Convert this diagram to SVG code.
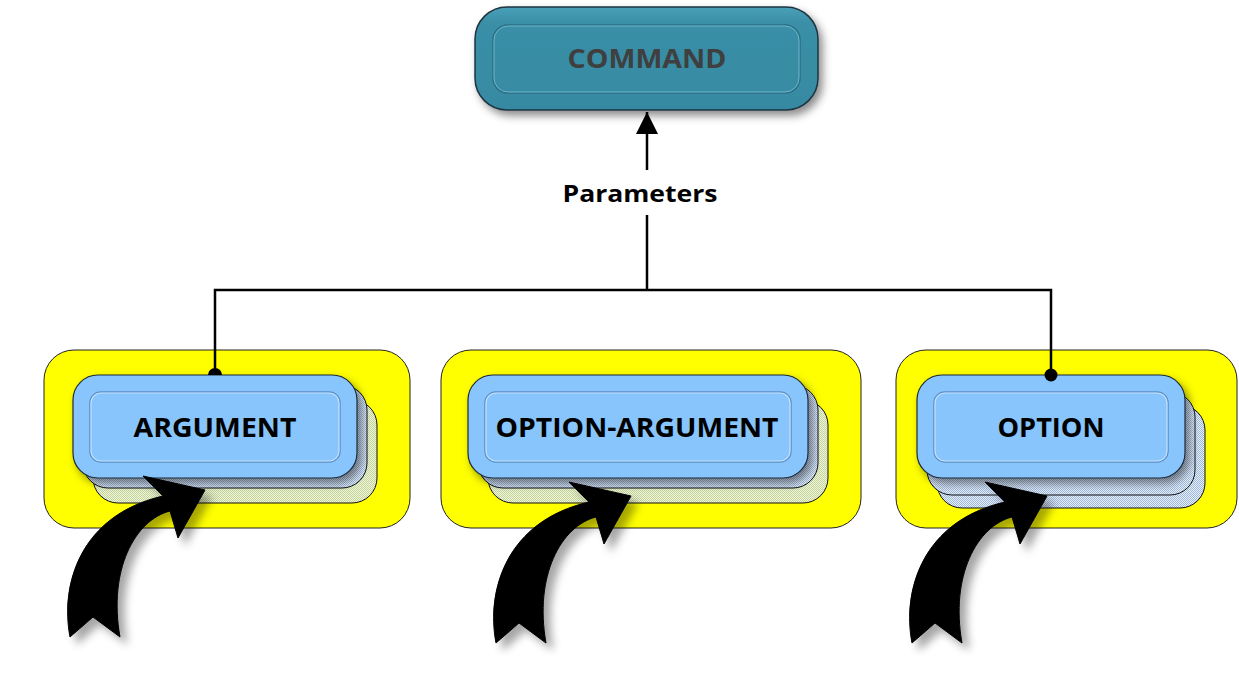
<svg xmlns="http://www.w3.org/2000/svg" width="1239" height="694" viewBox="0 0 1239 694">
<defs>
<style>
.yel{fill:#ffff00;stroke:#222;stroke-width:1}
.node{fill:#87c5fc;stroke:#1c2a3a;stroke-width:1.2}
.inner{fill:none;stroke:#5d8fc4;stroke-width:1.5}
.innerhi{fill:none;stroke:#c4e2ff;stroke-width:1.2}
.hb{fill:url(#hatchBlue);stroke:#111;stroke-width:1}
.hg{fill:url(#hatchGreen);stroke:#111;stroke-width:1}
.lbl{font-family:"Open Sans","Noto Sans",sans-serif;font-weight:bold;font-size:26px;fill:#000;text-anchor:middle}
.conn{fill:none;stroke:#000;stroke-width:2.5}
.curv{fill:#000;stroke:#000;stroke-width:1}
</style>
<pattern id="hatchBlue" width="2" height="2" patternUnits="userSpaceOnUse">
<rect width="2" height="2" fill="#e6eef8"/>
<rect width="1" height="1" fill="#9fb9dc"/>
<rect x="1" y="1" width="1" height="1" fill="#9fb9dc"/>
</pattern>
<pattern id="hatchGreen" width="2" height="2" patternUnits="userSpaceOnUse">
<rect width="2" height="2" fill="#f0f5dc"/>
<rect width="1" height="1" fill="#c2d49a"/>
<rect x="1" y="1" width="1" height="1" fill="#c2d49a"/>
</pattern>
<filter id="sh" x="-20%" y="-20%" width="140%" height="150%">
<feDropShadow dx="4" dy="5" stdDeviation="4" flood-color="#000" flood-opacity="0.45"/>
</filter>
<filter id="ash" x="-30%" y="-30%" width="160%" height="160%">
<feDropShadow dx="7" dy="7" stdDeviation="4" flood-color="#000" flood-opacity="0.35"/>
</filter>
<linearGradient id="cmdG" x1="0" y1="0" x2="0" y2="1">
<stop offset="0" stop-color="#4aa0b8"/>
<stop offset="0.15" stop-color="#3a8fa7"/>
<stop offset="1" stop-color="#368aa2"/>
</linearGradient>
<marker id="ah" markerUnits="userSpaceOnUse" markerWidth="24" markerHeight="24" refX="22" refY="11" orient="auto">
<path d="M0,0 L22,11 L0,22 Z" fill="#000"/>
</marker>
<path id="curved" d="M70,637 C60,585 80,515 163,496 L143,476 L205,490 L178,538 L170,511 C135,520 108,570 120,637 L93,617 Z"/>
</defs>
<rect width="1239" height="694" fill="#fff"/>

<g id="command">
<rect x="475" y="7" width="343" height="103" rx="32" fill="url(#cmdG)" stroke="#1e3440" stroke-width="1.5" filter="url(#sh)"/>
<rect x="493" y="25" width="307" height="68" rx="15" fill="none" stroke="#2c6e82" stroke-width="1.5"/>
<rect x="494" y="26" width="305" height="66" rx="14" fill="none" stroke="#6cb6ca" stroke-width="1"/>
<text x="647" y="68" class="lbl" fill="#3f3f3f" style="fill:#3f3f3f" textLength="159" lengthAdjust="spacingAndGlyphs">COMMAND</text>
</g>

<g id="group-argument">
<rect x="44" y="350" width="366" height="178" rx="30" class="yel"/>
</g>
<g id="group-option-argument">
<rect x="441" y="350" width="420" height="178" rx="30" class="yel"/>
</g>
<g id="group-option">
<rect x="896" y="350" width="341" height="178" rx="30" class="yel"/>
</g>

<g id="argument">
<rect x="93" y="400" width="284" height="103" rx="25" class="hg"/>
<rect x="83" y="385" width="284" height="103" rx="25" class="hb"/>
<rect x="73" y="375" width="284" height="103" rx="25" class="node" filter="url(#sh)"/>
<rect x="90" y="392" width="250" height="70" rx="11" class="inner"/>
<rect x="91" y="393" width="248" height="68" rx="10" class="innerhi"/>
<text x="215" y="437" class="lbl" textLength="163" lengthAdjust="spacingAndGlyphs">ARGUMENT</text>
</g>

<g id="option-argument">
<rect x="488" y="400" width="340" height="103" rx="25" class="hg"/>
<rect x="478" y="385" width="340" height="103" rx="25" class="hb"/>
<rect x="468" y="375" width="340" height="103" rx="25" class="node" filter="url(#sh)"/>
<rect x="485" y="392" width="306" height="70" rx="11" class="inner"/>
<rect x="486" y="393" width="304" height="68" rx="10" class="innerhi"/>
<text x="637" y="437" class="lbl" textLength="283" lengthAdjust="spacingAndGlyphs">OPTION-ARGUMENT</text>
</g>

<g id="option">
<rect x="937" y="405" width="268" height="103" rx="25" class="hb"/>
<rect x="927" y="392" width="268" height="103" rx="25" class="hb"/>
<rect x="917" y="375" width="268" height="103" rx="25" class="node" filter="url(#sh)"/>
<rect x="934" y="392" width="234" height="70" rx="11" class="inner"/>
<rect x="935" y="393" width="232" height="68" rx="10" class="innerhi"/>
<text x="1051" y="437" class="lbl" textLength="107" lengthAdjust="spacingAndGlyphs">OPTION</text>
</g>

<g id="connectors">
<path class="conn" d="M215,373 L215,290 L1051,290 L1051,373"/>
<path class="conn" d="M647,290 L647,215"/>
<path class="conn" d="M647,170 L647,112" marker-end="url(#ah)"/>
<path d="M208,375 A7,7 0 0 1 222,375 Z" fill="#000"/>
<circle cx="1051" cy="375" r="6.5" fill="#000"/>
<text x="640" y="202" font-family="Open Sans, Noto Sans, sans-serif" font-weight="bold" font-size="24" text-anchor="middle" textLength="155" lengthAdjust="spacingAndGlyphs">Parameters</text>
</g>

<g id="curved-arrows" filter="url(#ash)">
<use href="#curved" class="curv"/>
<use href="#curved" class="curv" transform="translate(426,6)"/>
<use href="#curved" class="curv" transform="translate(842,6)"/>
</g>
</svg>
